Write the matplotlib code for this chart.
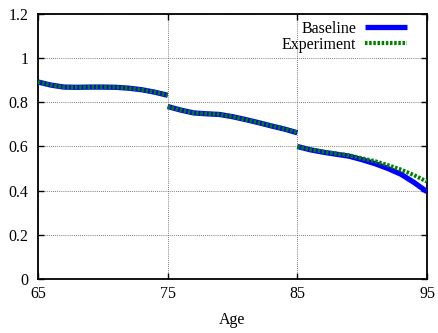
import matplotlib
matplotlib.use("Agg")
import matplotlib.pyplot as plt

plt.rcParams['font.family'] = ['Liberation Serif', 'DejaVu Serif']

# Survival fraction by age, three age bands
ages_a = [65, 66, 67, 68, 69, 70, 71, 72, 73, 74, 75]
ages_b = [75, 76, 77, 78, 79, 80, 81, 82, 83, 84, 85]
ages_c = [85, 86, 87, 88, 89, 90, 91, 92, 93, 94, 95]

baseline_a = [0.892, 0.878, 0.869, 0.868, 0.869, 0.869, 0.868, 0.864, 0.857, 0.846, 0.832]
baseline_b = [0.781, 0.765, 0.752, 0.748, 0.745, 0.735, 0.722, 0.708, 0.693, 0.679, 0.662]
baseline_c = [0.600, 0.585, 0.574, 0.565, 0.556, 0.540, 0.522, 0.500, 0.474, 0.437, 0.395]

experiment_a = [0.892, 0.878, 0.869, 0.868, 0.869, 0.869, 0.868, 0.864, 0.857, 0.846, 0.832]
experiment_b = [0.781, 0.765, 0.752, 0.748, 0.745, 0.735, 0.722, 0.708, 0.694, 0.680, 0.664]
experiment_c = [0.600, 0.587, 0.576, 0.568, 0.560, 0.546, 0.533, 0.515, 0.495, 0.470, 0.441]

xticks = [65, 75, 85, 95]
yticks = [0, 0.2, 0.4, 0.6, 0.8, 1.0, 1.2]
ytick_labels = ['0', '0.2', '0.4', '0.6', '0.8', '1', '1.2']

fs = 11.5

fig = plt.figure(figsize=(4.39, 3.33), dpi=100)
ax = fig.add_axes([0.0866, 0.1622, 0.8861, 0.7958])

blue = '#0000ff'
green = '#008000'
for i, (xs, yb, ye) in enumerate([(ages_a, baseline_a, experiment_a),
                                  (ages_b, baseline_b, experiment_b),
                                  (ages_c, baseline_c, experiment_c)]):
    ax.plot(xs, yb, color=blue, lw=3.8, solid_capstyle='butt',
            label='Baseline' if i == 0 else None, zorder=3)
    ax.plot(xs, ye, color=green, lw=3.0, dashes=(0.6, 0.4),
            dash_capstyle='butt', label='Experiment' if i == 0 else None, zorder=4)

ax.set_xlim(65, 95)
ax.set_ylim(0, 1.2)
ax.set_xticks(xticks)
ax.set_xticklabels([str(t) for t in xticks])
ax.set_yticks(yticks)
ax.set_yticklabels(ytick_labels)
ax.tick_params(direction='in', top=True, right=True, length=4, width=1,
               labelsize=fs)
ax.tick_params(axis='y', pad=7)
ax.tick_params(axis='x', pad=5)
ax.grid(True, color='#555555', linestyle=(0, (1, 1.5)), linewidth=0.6)
for s in ax.spines.values():
    s.set_linewidth(1.3)
    s.set_color('black')

ax.set_xlabel('Age', fontsize=fs, labelpad=7)

leg = ax.legend(loc='upper right', bbox_to_anchor=(0.9486, 0.975),
                frameon=False, markerfirst=False, fontsize=fs,
                handlelength=2.6, handletextpad=0.57, labelspacing=0.0,
                borderpad=0, borderaxespad=0)
for t in leg.get_texts():
    t.set_ha('right')

fig.savefig('out.png', dpi=100)
